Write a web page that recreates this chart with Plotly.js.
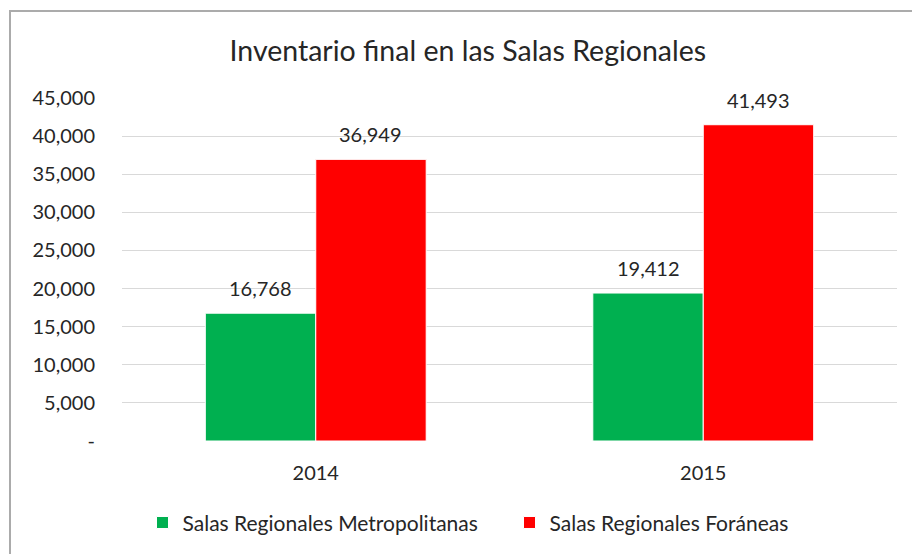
<!DOCTYPE html>
<html>
<head>
<meta charset="utf-8">
<script src="https://cdn.plot.ly/plotly-3.0.1.min.js"></script>
<style>
  html, body { margin: 0; padding: 0; background: #fff; overflow: hidden; }
  #chart { position: absolute; left: 0; top: 0; width: 912px; height: 554px; }
  #frame { position: absolute; left: 9px; top: 10px; width: 920px; height: 560px;
           border-top: 2px solid #ababab; border-left: 2px solid #ababab; pointer-events: none; }
  #err { position: absolute; left: 20px; top: 200px; color: blue; font: 14px monospace; }
</style>
</head>
<body>
<div id="chart"></div>
<div id="frame"></div>
<div id="err"></div>
<script>
window.onerror = function (m) { document.getElementById('err').textContent += ' ERR: ' + m; };
const years = ['2014', '2015'];
const metropolitanas = [16768, 19412];
const foraneas = [36949, 41493];
const seriesNames = ['Salas Regionales Metropolitanas', 'Salas Regionales Foráneas'];
const tickValues = [0, 5000, 10000, 15000, 20000, 25000, 30000, 35000, 40000, 45000];
const tickLabels = ['-', '5,000', '10,000', '15,000', '20,000', '25,000', '30,000', '35,000', '40,000', '45,000'];

const FONT = 'Lato, "Open Sans", sans-serif';
const TXT = '#262626';

const traces = [
  { type: 'bar', x: years, y: metropolitanas, name: seriesNames[0],
    marker: { color: '#00B050', line: { color: '#ffffff', width: 1 } } },
  { type: 'bar', x: years, y: foraneas, name: seriesNames[1],
    marker: { color: '#FF0000', line: { color: '#ffffff', width: 1 } } }
];

const fmt = v => v.toLocaleString('en-US');
const annotations = [];
[metropolitanas, foraneas].forEach((arr, si) => {
  arr.forEach((v, i) => {
    annotations.push({
      x: i, y: v, xref: 'x', yref: 'y',
      xshift: si === 0 ? -55 : 55, yshift: 11,
      text: fmt(v), showarrow: false, yanchor: 'bottom', xanchor: 'center',
      font: { family: FONT, size: 20, color: TXT }
    });
  });
});

const layout = {
  width: 912, height: 554,
  margin: { l: 122, r: 15, t: 98, b: 112 },
  paper_bgcolor: '#ffffff', plot_bgcolor: '#ffffff',
  title: { text: 'Inventario final en las Salas Regionales', x: 0.513, xref: 'container',
           y: 0.908, yref: 'container', yanchor: 'middle', xanchor: 'center',
           font: { family: FONT, size: 28.5, color: TXT } },
  barmode: 'group', bargap: 0.43,
  xaxis: { type: 'category', showgrid: false, zeroline: false, showline: false,
           ticks: 'outside', ticklen: 14, tickcolor: 'rgba(0,0,0,0)',
           tickfont: { family: FONT, size: 20, color: TXT } },
  yaxis: { range: [0, 45000], tickvals: tickValues, ticktext: tickLabels,
           showgrid: true, gridcolor: '#d9d9d9', gridwidth: 1, zeroline: false, showline: false,
           ticks: 'outside', ticklen: 22, tickcolor: 'rgba(0,0,0,0)',
           tickfont: { family: FONT, size: 20, color: TXT } },
  showlegend: true,
  legend: { orientation: 'h', x: 0.5, xanchor: 'center', y: -0.235, yanchor: 'middle',
            entrywidth: 322, entrywidthmode: 'pixels',
            font: { family: FONT, size: 21, color: TXT }, traceorder: 'normal' },
  annotations: annotations
};

try {
  const p = Plotly.newPlot('chart', traces, layout, { displayModeBar: false });
  if (p && p.catch) p.catch(e => { document.getElementById('err').textContent += ' PROMISE: ' + e; });
} catch (e) { document.getElementById('err').textContent += ' CATCH: ' + e; }
</script>
</body>
</html>
